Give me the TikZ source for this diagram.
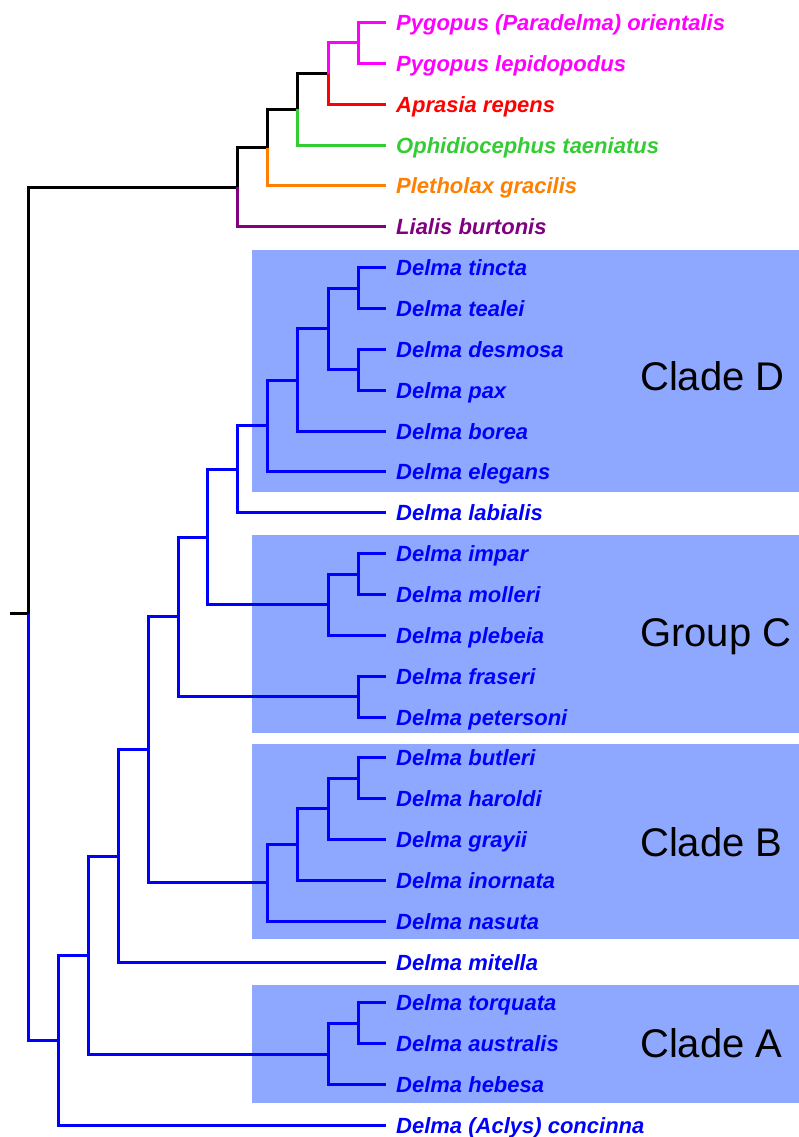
\documentclass[tikz,border=0pt]{standalone}
\usepackage{fontspec}
\setmainfont{Liberation Sans}
\definecolor{trblue}{HTML}{0000FF}
\definecolor{trmag}{HTML}{FF00FF}
\definecolor{trred}{HTML}{FF0000}
\definecolor{trgreen}{HTML}{33CC33}
\definecolor{trorange}{HTML}{FF8000}
\definecolor{trpurple}{HTML}{800080}
\definecolor{trshade}{HTML}{8FA8FF}

\begin{document}
\begin{tikzpicture}[
  x=1pt, y=-1pt,
  branch/.style = {draw=trblue, line width=3pt, line join=miter},
  taxon/.style  = {anchor=west, inner xsep=10pt, inner ysep=0pt, text height=16pt,
                   text depth=0pt, text=trblue, font=\fontsize{22}{24}\selectfont\bfseries\itshape},
  clade/.style  = {anchor=base west, inner sep=0pt, font=\fontsize{40}{44}\selectfont},
  band/.style   = {fill=trshade, draw=none},
]
\useasboundingbox (0,0) rectangle (799,1137);

% shaded groups
\fill[band] (252,250) rectangle (799,491.5);
\fill[band] (252,535) rectangle (799,733);
\fill[band] (252,743.5) rectangle (799,939);
\fill[band] (252,985) rectangle (799,1103);
\node[clade] (cladeD) at (640,390) {Clade D};
\node[clade] (groupC) at (640,646) {Group C};
\node[clade] (cladeB) at (640,856) {Clade B};
\node[clade] (cladeA) at (640,1057) {Clade A};

% tips
\node[taxon, text=trmag]    (porient) at (386,22.5)  {Pygopus (Paradelma) orientalis};
\node[taxon, text=trmag]    (plepid)  at (386,63.4)  {Pygopus lepidopodus};
\node[taxon, text=trred]    (aprasia) at (386,104.2) {Aprasia repens};
\node[taxon, text=trgreen]  (ophid)   at (386,145.1) {Ophidiocephus taeniatus};
\node[taxon, text=trorange] (pleth)   at (386,185.9) {Pletholax gracilis};
\node[taxon, text=trpurple] (lialis)  at (386,226.8) {Lialis burtonis};
\node[taxon] (tincta)    at (386,267.6)  {Delma tincta};
\node[taxon] (tealei)    at (386,308.5)  {Delma tealei};
\node[taxon] (desmosa)   at (386,349.3)  {Delma desmosa};
\node[taxon] (pax)       at (386,390.2)  {Delma pax};
\node[taxon] (borea)     at (386,431.0)  {Delma borea};
\node[taxon] (elegans)   at (386,471.9)  {Delma elegans};
\node[taxon] (labialis)  at (386,512.7)  {Delma labialis};
\node[taxon] (impar)     at (386,553.6)  {Delma impar};
\node[taxon] (molleri)   at (386,594.4)  {Delma molleri};
\node[taxon] (plebeia)   at (386,635.3)  {Delma plebeia};
\node[taxon] (fraseri)   at (386,676.1)  {Delma fraseri};
\node[taxon] (petersoni) at (386,717.0)  {Delma petersoni};
\node[taxon] (butleri)   at (386,757.8)  {Delma butleri};
\node[taxon] (haroldi)   at (386,798.7)  {Delma haroldi};
\node[taxon] (grayii)    at (386,839.5)  {Delma grayii};
\node[taxon] (inornata)  at (386,880.4)  {Delma inornata};
\node[taxon] (nasuta)    at (386,921.2)  {Delma nasuta};
\node[taxon] (mitella)   at (386,962.1)  {Delma mitella};
\node[taxon] (torquata)  at (386,1002.9) {Delma torquata};
\node[taxon] (australis) at (386,1043.8) {Delma australis};
\node[taxon] (hebesa)    at (386,1084.6) {Delma hebesa};
\node[taxon] (concinna)  at (386,1125.5) {Delma (Aclys) concinna};

% internal nodes
\coordinate (stub)    at (10,613.7);
\coordinate (root)    at (28,613.7);
\coordinate (pygo)    at (237,187.2);
\coordinate (ple)     at (267,147.6);
\coordinate (oph)     at (297,109.3);
\coordinate (aprpyg)  at (328,73.6);
\coordinate (pyg)     at (358,43.0);
\coordinate (delma)   at (58,1040.3);
\coordinate (d88)     at (88,955.0);
\coordinate (d118)    at (118,856.0);
\coordinate (d148)    at (148,749.9);
\coordinate (d178)    at (178,616.8);
\coordinate (d207)    at (207,537.0);
\coordinate (dlab)    at (237,469.3);
\coordinate (dele)    at (267,425.9);
\coordinate (dbor)    at (297,380.0);
\coordinate (d4)      at (328,328.9);
\coordinate (tinteal) at (358,288.0);
\coordinate (despax)  at (358,369.8);
\coordinate (impple)  at (328,604.6);
\coordinate (impmol)  at (358,574.0);
\coordinate (frapet)  at (358,696.6);
\coordinate (cladeBn) at (267,882.9);
\coordinate (binor)   at (297,844.6);
\coordinate (bgr)     at (328,808.9);
\coordinate (butha)   at (358,778.3);
\coordinate (cladeAn) at (328,1054.0);
\coordinate (torau)   at (358,1023.4);

% pygopodid branches
\draw[branch, draw=black] (stub) -- (root) |- (pygo);
\draw[branch, draw=black] (pygo) |- (ple);
\draw[branch, draw=trpurple] (pygo) |- (lialis.west);
\draw[branch, draw=black] (ple) |- (oph);
\draw[branch, draw=trorange] (ple) |- (pleth.west);
\draw[branch, draw=black] (oph) |- (aprpyg);
\draw[branch, draw=trgreen] (oph) |- (ophid.west);
\draw[branch, draw=trmag] (aprpyg) |- (pyg);
\draw[branch, draw=trred] (aprpyg) |- (aprasia.west);
\draw[branch, draw=trmag] (pyg) |- (porient.west) (pyg) |- (plepid.west);

% Delma branches
\draw[branch] (root) |- (delma);
\draw[branch] (delma) |- (d88) (delma) |- (concinna.west);
\draw[branch] (d88) |- (d118) (d88) |- (cladeAn);
\draw[branch] (d118) |- (d148) (d118) |- (mitella.west);
\draw[branch] (d148) |- (d178) (d148) |- (cladeBn);
\draw[branch] (d178) |- (d207) (d178) |- (frapet);
\draw[branch] (d207) |- (dlab) (d207) |- (impple);
\draw[branch] (dlab) |- (dele) (dlab) |- (labialis.west);
\draw[branch] (dele) |- (dbor) (dele) |- (elegans.west);
\draw[branch] (dbor) |- (d4) (dbor) |- (borea.west);
\draw[branch] (d4) |- (tinteal) (d4) |- (despax);
\draw[branch] (tinteal) |- (tincta.west) (tinteal) |- (tealei.west);
\draw[branch] (despax) |- (desmosa.west) (despax) |- (pax.west);
\draw[branch] (impple) |- (impmol) (impple) |- (plebeia.west);
\draw[branch] (impmol) |- (impar.west) (impmol) |- (molleri.west);
\draw[branch] (frapet) |- (fraseri.west) (frapet) |- (petersoni.west);
\draw[branch] (cladeBn) |- (binor) (cladeBn) |- (nasuta.west);
\draw[branch] (binor) |- (bgr) (binor) |- (inornata.west);
\draw[branch] (bgr) |- (butha) (bgr) |- (grayii.west);
\draw[branch] (butha) |- (butleri.west) (butha) |- (haroldi.west);
\draw[branch] (cladeAn) |- (torau) (cladeAn) |- (hebesa.west);
\draw[branch] (torau) |- (torquata.west) (torau) |- (australis.west);
\end{tikzpicture}
\end{document}
